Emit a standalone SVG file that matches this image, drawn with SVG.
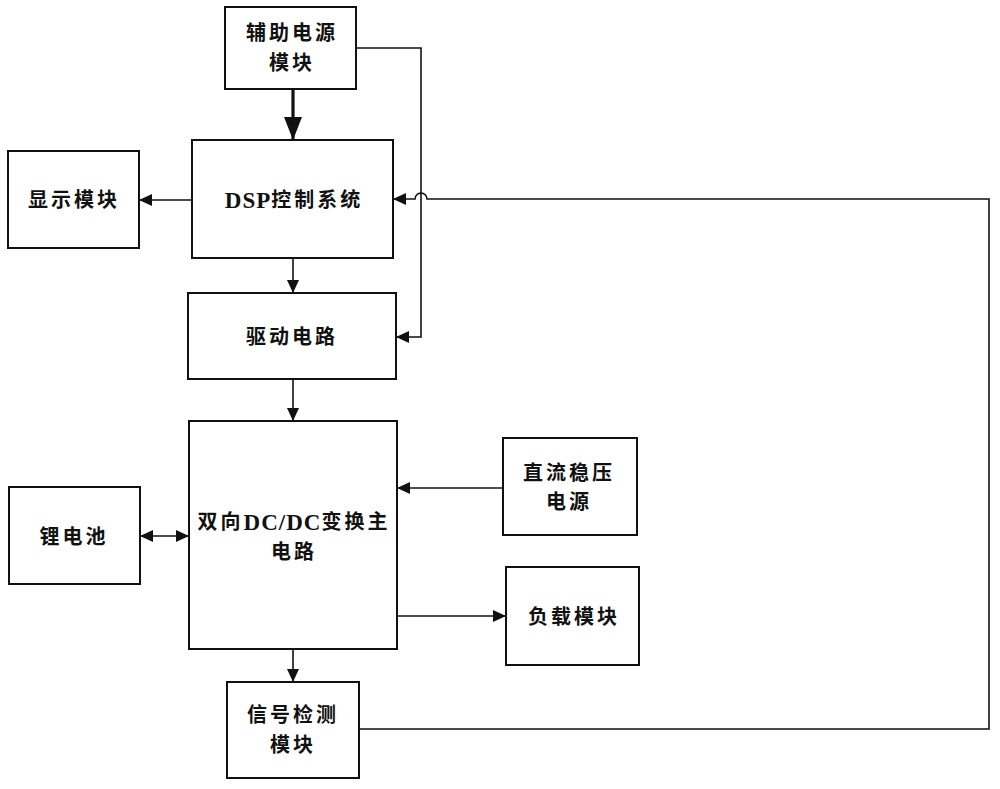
<svg xmlns="http://www.w3.org/2000/svg" width="1000" height="789" viewBox="0 0 1000 789">
<style>
.box{fill:#fff;stroke:#111;stroke-width:2}
.t{font-family:"Liberation Serif","Noto Sans CJK SC",serif;font-weight:bold;font-size:20px;letter-spacing:3px;fill:#111;text-anchor:middle;dominant-baseline:central}
.l{font-size:23px;letter-spacing:1px}
.c{fill:none;stroke:#111;stroke-width:1.6}
</style>
<defs>
<marker id="a" markerUnits="userSpaceOnUse" markerWidth="14" markerHeight="12" refX="13" refY="6" orient="auto-start-reverse"><path d="M0,0 L13,6 L0,12 Z" fill="#111"/></marker>
<marker id="big" markerUnits="userSpaceOnUse" markerWidth="24" markerHeight="18" refX="23" refY="9" orient="auto"><path d="M0,0 L23,9 L0,18 Z" fill="#111"/></marker>
</defs>
<rect width="1000" height="789" fill="#fff"/>
<g id="connectors">
<line x1="293" y1="89" x2="293" y2="140" stroke="#111" stroke-width="3.2" marker-end="url(#big)"/>
<line class="c" x1="192" y1="200" x2="139" y2="200" marker-end="url(#a)"/>
<line class="c" x1="293" y1="258" x2="293" y2="293" marker-end="url(#a)"/>
<path class="c" d="M356,48 H421 V337 H396" marker-end="url(#a)"/>
<path class="c" d="M359,729 H989 V199 H427 A6,6 0 0 0 415,199 H393" marker-end="url(#a)"/>
<line class="c" x1="293" y1="379" x2="293" y2="421" marker-end="url(#a)"/>
<line class="c" x1="140" y1="536" x2="189" y2="536" marker-start="url(#a)" marker-end="url(#a)"/>
<line class="c" x1="503" y1="488" x2="397" y2="488" marker-end="url(#a)"/>
<line class="c" x1="397" y1="616" x2="506" y2="616" marker-end="url(#a)"/>
<line class="c" x1="293" y1="649" x2="293" y2="682" marker-end="url(#a)"/>
</g>
<g id="aux"><rect class="box" x="225" y="7" width="131" height="82"/><text class="t" x="292" y="33">辅助电源</text><text class="t" x="292" y="63">模块</text></g>
<g id="dsp"><rect class="box" x="192" y="140" width="201" height="118"/><text class="t" x="294" y="200"><tspan class="l">DSP</tspan>控制系统</text></g>
<g id="display"><rect class="box" x="8" y="151" width="131" height="97"/><text class="t" x="74" y="200">显示模块</text></g>
<g id="driver"><rect class="box" x="188" y="293" width="208" height="86"/><text class="t" x="292" y="337">驱动电路</text></g>
<g id="main"><rect class="box" x="189" y="421" width="208" height="228"/><text class="t" x="294" y="522">双向<tspan class="l">DC/DC</tspan>变换主</text><text class="t" x="294" y="552">电路</text></g>
<g id="battery"><rect class="box" x="9" y="487" width="131" height="97"/><text class="t" x="74" y="537">锂电池</text></g>
<g id="dcsupply"><rect class="box" x="503" y="438" width="134" height="97"/><text class="t" x="569" y="473">直流稳压</text><text class="t" x="569" y="502">电源</text></g>
<g id="load"><rect class="box" x="506" y="567" width="133" height="98"/><text class="t" x="574" y="617">负载模块</text></g>
<g id="sense"><rect class="box" x="227" y="682" width="132" height="96"/><text class="t" x="293" y="715">信号检测</text><text class="t" x="293" y="745">模块</text></g>
</svg>
